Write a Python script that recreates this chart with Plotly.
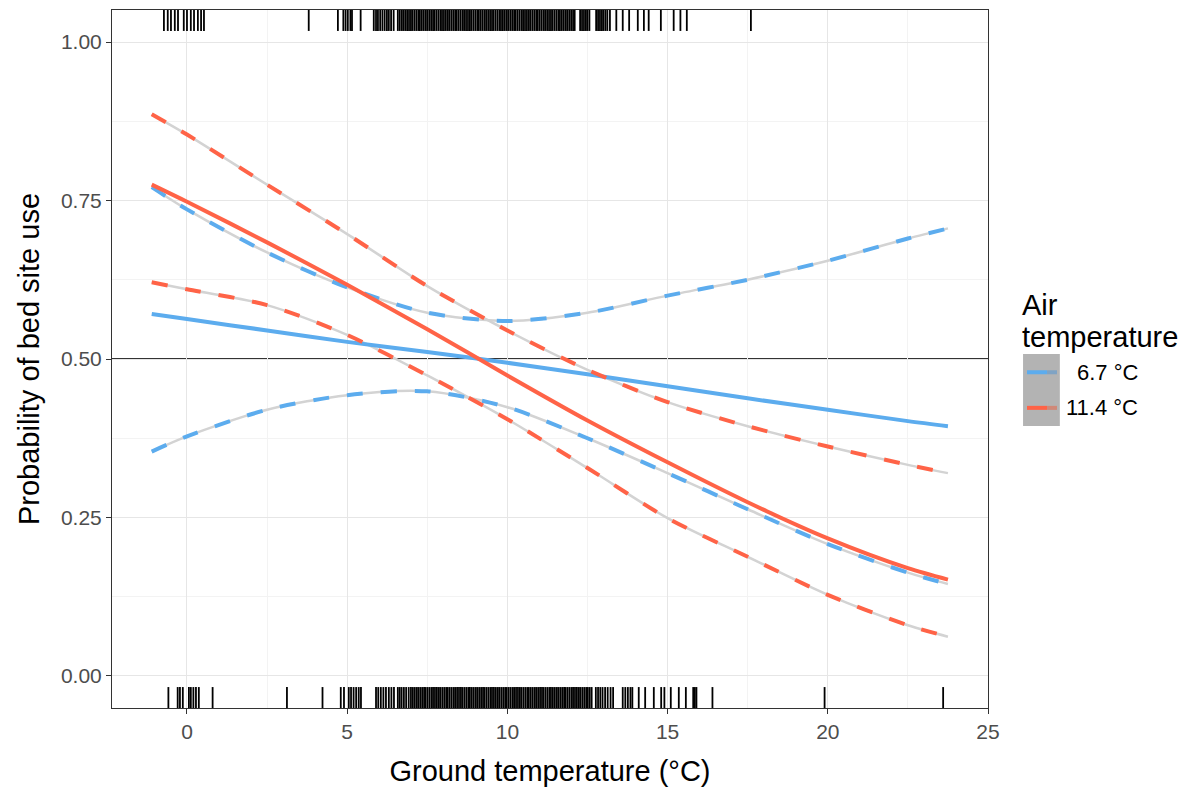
import plotly.graph_objects as go

# ground temperature grid for the fitted curves (°C)
ground_temp = [-1.1, 0, 2.5, 5, 7.5, 10, 12.5, 15, 17.5, 20, 22.5, 23.75]

# air temperature 6.7 °C: fit and confidence limits
cold_fit = [0.571, 0.563, 0.545, 0.527, 0.511, 0.494, 0.476, 0.457, 0.438, 0.420, 0.402, 0.394]
cold_hi = [0.771, 0.736, 0.668, 0.613, 0.573, 0.560, 0.573, 0.600, 0.625, 0.655, 0.690, 0.706]
cold_lo = [0.354, 0.378, 0.420, 0.443, 0.449, 0.424, 0.375, 0.320, 0.263, 0.208, 0.163, 0.145]

# air temperature 11.4 °C: fit and confidence limits
warm_fit = [0.775, 0.748, 0.684, 0.617, 0.547, 0.474, 0.403, 0.337, 0.274, 0.217, 0.170, 0.152]
warm_hi = [0.886, 0.854, 0.775, 0.697, 0.615, 0.545, 0.483, 0.432, 0.394, 0.362, 0.333, 0.320]
warm_lo = [0.621, 0.610, 0.585, 0.538, 0.474, 0.405, 0.328, 0.249, 0.188, 0.128, 0.080, 0.062]

legend_labels = ["6.7 °C", "11.4 °C"]

# rug: ground temperature at used (top) and unused (bottom) sites
rug_used = [
    -1.07, -0.72, -0.6, -0.5, -0.38, -0.28, -0.1, 0.0, 0.12, 0.22, 0.34, 0.44, 0.53,
    3.8, 4.71, 4.88, 4.95, 5.02, 5.1, 5.15, 5.42,
    5.83, 5.9, 5.96, 6.03, 6.1, 6.17, 6.24, 6.3, 6.37, 6.45,
    6.58, 6.64, 6.7, 6.75, 6.81, 6.87, 6.93, 6.99, 7.04, 7.1, 7.16, 7.22, 7.27, 7.33,
    7.39, 7.45, 7.5, 7.56, 7.62, 7.68, 7.73, 7.79, 7.85, 7.91, 7.96, 8.02, 8.08, 8.14,
    8.19, 8.25, 8.31, 8.37, 8.42, 8.48, 8.54, 8.6, 8.65, 8.71, 8.77, 8.83, 8.88, 8.94,
    9.0, 9.06, 9.11, 9.17, 9.23, 9.29, 9.34, 9.4, 9.46, 9.52, 9.57, 9.63, 9.69, 9.75,
    9.8, 9.86, 9.92, 9.98, 10.03, 10.09, 10.15, 10.21, 10.26, 10.32, 10.38, 10.44,
    10.49, 10.55, 10.61, 10.67, 10.72, 10.78, 10.84, 10.9, 10.95, 11.01, 11.07, 11.13,
    11.18, 11.24, 11.3, 11.36, 11.41, 11.47, 11.53, 11.59, 11.64, 11.7, 11.76, 11.82,
    11.87, 11.93, 11.99, 12.05, 12.1, 12.27, 12.33, 12.39, 12.45, 12.5, 12.56,
    12.77, 12.83, 12.89, 12.95, 13.0, 13.06, 13.12, 13.2,
    13.4, 13.6, 13.8, 14.07, 14.26, 14.41, 14.79, 15.19, 15.4, 15.6, 17.6,
]
rug_unused = [
    -0.58, -0.29, -0.22, -0.13, 0.06, 0.12, 0.2, 0.28, 0.37, 0.8, 3.12, 4.23,
    4.8, 4.9, 5.05, 5.12, 5.2, 5.28, 5.36, 5.43,
    5.9, 5.97, 6.05, 6.13, 6.21, 6.3, 6.38, 6.46, 6.58, 6.64, 6.7, 6.77, 6.84, 6.92, 6.99,
    7.05, 7.11, 7.17, 7.22, 7.28, 7.34, 7.4, 7.45, 7.51, 7.57, 7.63, 7.68, 7.74, 7.8,
    7.86, 7.91, 7.97, 8.03, 8.09, 8.14, 8.2, 8.26, 8.32, 8.37, 8.43, 8.49, 8.55, 8.6,
    8.66, 8.72, 8.78, 8.83, 8.89, 8.95, 9.01, 9.06, 9.12, 9.18, 9.24, 9.29, 9.35, 9.41,
    9.47, 9.52, 9.58, 9.64, 9.7, 9.75, 9.81, 9.87, 9.93, 9.98, 10.04, 10.1, 10.16,
    10.21, 10.27, 10.33, 10.39, 10.44, 10.5, 10.56, 10.62, 10.67, 10.73, 10.79, 10.85,
    10.9, 10.96, 11.02, 11.08, 11.13, 11.19, 11.25, 11.31, 11.36, 11.42, 11.48, 11.54,
    11.59, 11.65, 11.71, 11.77, 11.82, 11.88, 11.94, 12.0, 12.05, 12.11, 12.17, 12.23,
    12.28, 12.34, 12.4, 12.46, 12.51, 12.57, 12.63,
    12.76, 12.83, 12.9, 12.97, 13.05, 13.13, 13.22, 13.3, 13.6, 13.68, 13.76, 13.84, 13.9,
    14.1, 14.3, 14.57, 14.8, 14.9, 15.1, 15.35, 15.57, 15.8, 15.85, 15.9, 16.4, 19.9, 23.6,
]

BLUE = "#5CACEE"
RED = "#FF6347"
FONT = "Liberation Sans, Arial, sans-serif"

fig = go.Figure()

fig.add_hline(y=0.5, line=dict(color="#333333", width=2.2), layer="below")

# light grey line under every confidence limit
for ys in [cold_hi, cold_lo, warm_hi, warm_lo]:
    fig.add_trace(go.Scatter(x=ground_temp, y=ys, mode="lines", showlegend=False,
                             line=dict(color="#D3D3D3", width=2.5, shape="spline", smoothing=0.8),
                             hoverinfo="skip"))

for fit, lo, hi, col, name in [(cold_fit, cold_lo, cold_hi, BLUE, legend_labels[0]),
                               (warm_fit, warm_lo, warm_hi, RED, legend_labels[1])]:
    for ys in [lo, hi]:
        fig.add_trace(go.Scatter(x=ground_temp, y=ys, mode="lines", showlegend=False,
                                 line=dict(color=col, width=4, dash="16px,18px",
                                           shape="spline", smoothing=0.8)))
    fig.add_trace(go.Scatter(x=ground_temp, y=fit, mode="lines", name=name, showlegend=False,
                             line=dict(color=col, width=4, shape="spline", smoothing=0.8)))

# rug marks, 3% of the panel height
shapes = []
for v in rug_used:
    shapes.append(dict(type="line", xref="x", yref="paper", x0=v, x1=v, y0=0.97, y1=1,
                       line=dict(color="black", width=1.8)))
for v in rug_unused:
    shapes.append(dict(type="line", xref="x", yref="paper", x0=v, x1=v, y0=0, y1=0.03,
                       line=dict(color="black", width=1.8)))

# hand-made legend (grey key background like ggplot)
shapes.append(dict(type="rect", xref="paper", yref="paper", x0=1.040, x1=1.082,
                   y0=0.404, y1=0.507, fillcolor="#B3B3B3", line=dict(width=0), layer="below"))
annotations = []
for ky, col, fade, lab in [(0.481, BLUE, "#7FA3C4", legend_labels[0]),
                           (0.430, RED, "#D08878", legend_labels[1])]:
    shapes.append(dict(type="line", xref="paper", yref="paper", x0=1.0445, x1=1.0674,
                       y0=ky, y1=ky, line=dict(color=col, width=4)))
    shapes.append(dict(type="line", xref="paper", yref="paper", x0=1.0674, x1=1.0788,
                       y0=ky, y1=ky, line=dict(color=fade, width=4)))
    annotations.append(dict(xref="paper", yref="paper", x=1.1735, y=ky, text=lab,
                            showarrow=False, xanchor="right", yanchor="middle",
                            font=dict(size=22, color="black", family=FONT)))
annotations.append(dict(xref="paper", yref="paper", x=1.036, y=0.577, text="Air",
                        showarrow=False, xanchor="left", yanchor="middle",
                        font=dict(size=29, color="black", family=FONT)))
annotations.append(dict(xref="paper", yref="paper", x=1.036, y=0.5315, text="temperature",
                        showarrow=False, xanchor="left", yanchor="middle",
                        font=dict(size=29, color="black", family=FONT)))

axis_common = dict(showline=True, mirror=True, linecolor="#333333", linewidth=1,
                   ticks="outside", ticklen=5, tickcolor="#333333", tickwidth=1,
                   gridcolor="#E6E6E6", gridwidth=1, zeroline=False,
                   tickfont=dict(size=21, color="#4D4D4D", family=FONT))

# the page body adds an 8px offset, so the figure is 8px smaller and margins shifted
fig.update_layout(
    width=1180, height=779,
    margin=dict(l=104, r=200, t=2, b=79),
    plot_bgcolor="white", paper_bgcolor="white",
    font=dict(family=FONT, color="black"),
    shapes=shapes, annotations=annotations,
    xaxis=dict(range=[-2.34, 25.0], tick0=0, dtick=5,
               minor=dict(showgrid=True, dtick=2.5, gridcolor="#F3F3F3", gridwidth=1),
               title=dict(text="Ground temperature (°C)", standoff=18,
                          font=dict(size=29, color="black", family=FONT)),
               **axis_common),
    yaxis=dict(range=[-0.0505, 1.0505], tick0=0, dtick=0.25, tickformat=".2f",
               minor=dict(showgrid=True, dtick=0.125, gridcolor="#F3F3F3", gridwidth=1),
               title=dict(text="Probability of bed site use", standoff=12,
                          font=dict(size=29, color="black", family=FONT)),
               **axis_common),
)

fig.write_html("out.html")
